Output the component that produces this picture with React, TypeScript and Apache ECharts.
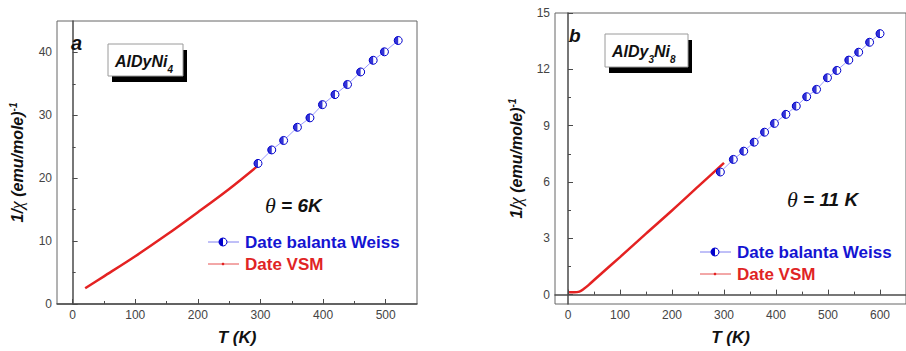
import React, { useEffect, useRef } from "react";
import * as echarts from "echarts";

// Panel a: AlDyNi4
const tempA = [20, 50, 100, 150, 200, 250, 296];
const vsmA = [2.5, 4.4, 7.6, 11.0, 14.6, 18.3, 22.0];
const weissTempA = [296, 318, 337, 359, 379, 399, 419, 439, 460, 480, 498, 520];
const weissA = [22.35, 24.5, 26.0, 28.1, 29.6, 31.7, 33.3, 34.9, 36.9, 38.75, 40.1, 41.9];

// Panel b: AlDy3Ni8
const tempB = [2, 12, 22, 30, 40, 60, 100, 150, 200, 250, 300];
const vsmB = [0.12, 0.12, 0.16, 0.3, 0.52, 1.02, 2.0, 3.25, 4.48, 5.75, 7.02];
const weissTempB = [293, 318, 338, 358, 378, 397, 419, 439, 459, 478, 499, 517, 540, 559, 580, 600];
const weissB = [6.53, 7.2, 7.64, 8.12, 8.65, 9.12, 9.6, 10.04, 10.54, 10.93, 11.55, 11.94, 12.49, 12.91, 13.44, 13.9];

// Tick positions
const xTicksA = [0, 100, 200, 300, 400, 500];
const xMinorA = [50, 150, 250, 350, 450];
const yTicksA = [0, 10, 20, 30, 40];
const yMinorA = [5, 15, 25, 35];
const xTicksB = [0, 100, 200, 300, 400, 500, 600];
const xMinorB = [50, 150, 250, 350, 450, 550];
const yTicksB = [0, 3, 6, 9, 12, 15];
const yMinorB = [1.5, 4.5, 7.5, 10.5, 13.5];

const SANS = '"Liberation Sans", Arial, sans-serif';
const SERIF = '"Liberation Serif", "DejaVu Serif", serif';
const AXIS = "#4a4a4a";
const BLUE = "#0000cc";
const RED = "#e42222";
const HALF = "path://M10,0 A10,10 0 0 0 10,20 Z";

const zip = (xs: number[], ys: number[]) => xs.map((x, i) => [x, ys[i]]);

const yName = "{n|1/}{g|χ}{n| (emu/mole)}{s|-1}";
const yNameStyle = {
  rich: {
    n: { fontSize: 16, fontWeight: "bold", fontStyle: "italic", fontFamily: SANS, color: "#111" },
    g: { fontSize: 18, fontStyle: "italic", fontFamily: SERIF, color: "#111" },
    s: { fontSize: 10, fontWeight: "bold", fontStyle: "italic", fontFamily: SANS, color: "#111", verticalAlign: "top" },
  },
};
const xNameStyle = { fontSize: 17, fontWeight: "bold", fontStyle: "italic", fontFamily: SANS, color: "#111" };

function majorX(grid: number, min: number, max: number, ticks: number[]) {
  return {
    type: "value",
    gridIndex: grid,
    position: "bottom",
    min,
    max,
    name: "T (K)",
    nameLocation: "middle",
    nameGap: 25,
    nameTextStyle: xNameStyle,
    axisLine: { show: true, lineStyle: { color: AXIS, width: 1.5 } },
    axisTick: { show: true, inside: true, length: 5, customValues: ticks, lineStyle: { color: AXIS, width: 1 } },
    axisLabel: { customValues: ticks, margin: 5, fontSize: 12, color: "#444", fontFamily: SANS },
    splitLine: { show: false },
  };
}

function minorX(grid: number, min: number, max: number, ticks: number[]) {
  return {
    type: "value",
    gridIndex: grid,
    position: "bottom",
    min,
    max,
    axisLine: { show: false },
    axisTick: { show: true, inside: true, length: 3, customValues: ticks, lineStyle: { color: AXIS, width: 1 } },
    axisLabel: { show: false },
    splitLine: { show: false },
  };
}

function majorY(grid: number, min: number, max: number, ticks: number[], gap: number) {
  return {
    type: "value",
    gridIndex: grid,
    position: "left",
    min,
    max,
    name: yName,
    nameLocation: "middle",
    nameRotate: 90,
    nameGap: gap,
    nameTextStyle: yNameStyle,
    axisLine: { show: true, lineStyle: { color: AXIS, width: 1.5 } },
    axisTick: { show: true, inside: true, length: 5, customValues: ticks, lineStyle: { color: AXIS, width: 1 } },
    axisLabel: { customValues: ticks, margin: 5, fontSize: 12, color: "#444", fontFamily: SANS },
    splitLine: { show: false },
  };
}

function minorY(grid: number, min: number, max: number, ticks: number[]) {
  return {
    type: "value",
    gridIndex: grid,
    position: "left",
    min,
    max,
    axisLine: { show: false },
    axisTick: { show: true, inside: true, length: 3, customValues: ticks, lineStyle: { color: AXIS, width: 1 } },
    axisLabel: { show: false },
    splitLine: { show: false },
  };
}

function seriesFor(xi: number, yi: number, t: number[], v: number[], wt: number[], w: number[], smooth: number) {
  return [
    {
      name: "Date VSM",
      type: "line",
      xAxisIndex: xi,
      yAxisIndex: yi,
      data: zip(t, v),
      showSymbol: false,
      smooth,
      lineStyle: { color: RED, width: 2.5 },
      z: 2,
    },
    {
      name: "Date balanta Weiss",
      type: "line",
      xAxisIndex: xi,
      yAxisIndex: yi,
      data: zip(wt, w),
      symbol: "circle",
      symbolSize: 8,
      itemStyle: { color: "#ffffff", borderColor: BLUE, borderWidth: 1 },
      lineStyle: { color: "#9a9aff", width: 1 },
      z: 3,
    },
    {
      name: "Date balanta Weiss",
      type: "scatter",
      xAxisIndex: xi,
      yAxisIndex: yi,
      data: zip(wt, w),
      symbol: HALF,
      symbolSize: [4, 8],
      symbolOffset: [-2, 0],
      itemStyle: { color: BLUE },
      z: 4,
    },
  ];
}

const bold = (size: number, color = "#111") => ({
  fontSize: size,
  fontWeight: "bold",
  fontStyle: "italic",
  fontFamily: SANS,
  fill: color,
});

function compoundBox(x: number, y: number, w: number, h: number, text: string) {
  return [
    { type: "rect", shape: { x: x + 4, y: y + 6, width: w, height: h }, style: { fill: "#000" }, z: 10 },
    { type: "rect", shape: { x, y, width: w, height: h }, style: { fill: "#fff", stroke: "#9a9a9a", lineWidth: 1 }, z: 11 },
    {
      type: "text",
      x: x + 7,
      y: y + h / 2 + 1,
      z: 12,
      style: {
        text,
        verticalAlign: "middle",
        rich: {
          m: { fontSize: 16, fontWeight: "bold", fontStyle: "italic", fontFamily: SANS, fill: "#111", lineHeight: 26 },
          s: { fontSize: 10, fontWeight: "bold", fontStyle: "italic", fontFamily: SANS, fill: "#111", verticalAlign: "bottom", lineHeight: 26 },
        },
      },
    },
  ];
}

function legendAt(x: number, y: number) {
  const cx = x + 15;
  return [
    { type: "line", shape: { x1: x, y1: y, x2: x + 31, y2: y }, style: { stroke: "#8080f0", lineWidth: 1 }, z: 10 },
    { type: "circle", shape: { cx, cy: y, r: 4 }, style: { fill: "#fff", stroke: BLUE, lineWidth: 1 }, z: 11 },
    {
      type: "sector",
      shape: { cx, cy: y, r: 4, r0: 0, startAngle: Math.PI / 2, endAngle: (Math.PI * 3) / 2 },
      style: { fill: BLUE },
      z: 12,
    },
    { type: "text", x: x + 37, y, z: 12, style: { text: "Date balanta Weiss", verticalAlign: "middle", ...bold(17, "#1414d2"), fontStyle: "normal" } },
    { type: "line", shape: { x1: x, y1: y + 22, x2: x + 31, y2: y + 22 }, style: { stroke: "#e65050", lineWidth: 1 }, z: 10 },
    { type: "circle", shape: { cx, cy: y + 22, r: 1.3 }, style: { fill: RED }, z: 11 },
    { type: "text", x: x + 37, y: y + 22, z: 12, style: { text: "Date VSM", verticalAlign: "middle", ...bold(17, "#e02424"), fontStyle: "normal" } },
  ];
}

function theta(x: number, y: number, rest: string) {
  return {
    type: "text",
    x,
    y,
    z: 12,
    style: {
      text: `{g|θ}{t|${rest}}`,
      verticalAlign: "middle",
      rich: {
        g: { fontSize: 22, fontStyle: "italic", fontFamily: SERIF, fill: "#111" },
        t: { fontSize: 19, fontWeight: "bold", fontStyle: "italic", fontFamily: SANS, fill: "#111" },
      },
    },
  };
}

export default function App() {
  const ref = useRef<HTMLDivElement>(null);

  useEffect(() => {
    if (!ref.current) return;
    const chart = echarts.init(ref.current, undefined, { renderer: "svg" });
    chart.setOption({
      animation: false,
      backgroundColor: "#ffffff",
      grid: [
        { left: 57, top: 21, width: 360, height: 289, show: true, borderColor: "#666", borderWidth: 1, backgroundColor: "transparent" },
        { left: 555, top: 13, width: 362, height: 293, show: true, borderColor: "#666", borderWidth: 1, backgroundColor: "transparent" },
      ],
      xAxis: [
        majorX(0, -25, 550, xTicksA),
        minorX(0, -25, 550, xMinorA),
        majorX(1, -25, 650, xTicksB),
        minorX(1, -25, 650, xMinorB),
      ],
      yAxis: [
        majorY(0, 0, 45, yTicksA, 31),
        minorY(0, 0, 45, yMinorA),
        majorY(1, -0.5, 15, yTicksB, 30),
        minorY(1, -0.5, 15, yMinorB),
      ],
      series: [
        ...seriesFor(0, 0, tempA, vsmA, weissTempA, weissA, 0.3),
        ...seriesFor(2, 2, tempB, vsmB, weissTempB, weissB, 0.3),
      ],
      graphic: [
        { type: "text", x: 71, y: 43, z: 12, style: { text: "a", verticalAlign: "middle", ...bold(20) } },
        { type: "text", x: 569, y: 35, z: 12, style: { text: "b", verticalAlign: "middle", ...bold(19) } },
        ...compoundBox(108, 44, 75, 32, "{m|AlDyNi}{s|4}"),
        ...compoundBox(605, 34, 83, 33, "{m|AlDy}{s|3}{m|Ni}{s|8}"),
        theta(265, 205, " = 6K"),
        theta(787, 199, " = 11 K"),
        ...legendAt(208, 242),
        ...legendAt(700, 252),
      ],
    });
    return () => chart.dispose();
  }, []);

  return <div ref={ref} style={{ position: "fixed", left: 0, top: 0, width: 906, height: 351 }} />;
}
